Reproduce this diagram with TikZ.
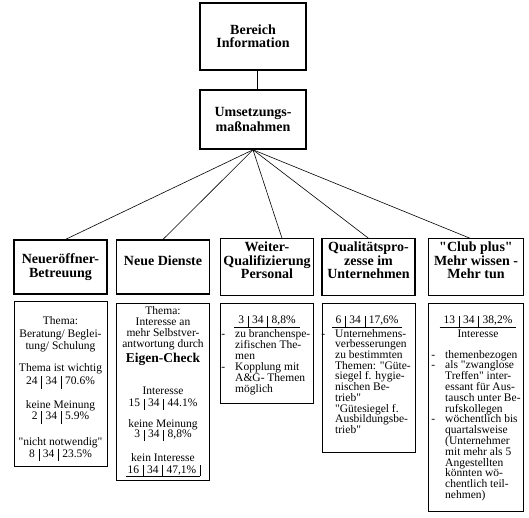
\documentclass[tikz,border=0pt]{standalone}
\usepackage{fontspec}
\setmainfont{Liberation Serif}[Ligatures=TeXOff]
\setlength{\tabcolsep}{4pt}
\newcommand{\zahl}[3]{\begin{tabular}{@{}c|c|c@{}}#1&#2&#3\end{tabular}}
\newcommand{\zahlu}[3]{{\renewcommand{\arraystretch}{0.85}%
  \begin{tabular}{@{\hspace{4pt}}c|c|c@{\hspace{4pt}}}#1&#2&#3\\\hline\end{tabular}}}
\newcommand{\strich}{\makebox[0pt][r]{-\hspace{10pt}}}

\begin{document}
\begin{tikzpicture}[x=1pt,y=-1pt,
  kopf/.style={draw,line width=1.6pt,minimum width=106pt,align=center,
    font=\fontsize{14}{13.3}\selectfont\bfseries},
  thema/.style={draw,line width=1.2pt,minimum width=93pt,minimum height=54pt,
    inner xsep=1pt,align=center,font=\fontsize{14}{13.3}\selectfont\bfseries},
  liste/.style={draw,line width=0.8pt,minimum width=93pt,inner sep=0pt},
  inhalt/.style={inner sep=0pt,anchor=north,align=center,font=\fontsize{11.5}{11}\selectfont},
  links/.style={inhalt,anchor=north west,align=left,font=\fontsize{11.5}{10.8}\selectfont}]
  \useasboundingbox (0,0) rectangle (529,517);

  \path
  (253,36.5)  node[kopf,minimum height=67pt](info)   {Bereich\\Information}
  (253,119.5) node[kopf,minimum height=59pt](umsetz) {Umsetzungs-\\[2pt]maßnahmen}

  (60.5,267)  node[thema](neu)     {Neueröffner-\\Betreuung}
  (163,267)   node[thema](dienste) {Neue Dienste\\\mbox{}}
  (267,267)   node[thema](weiter)  {Weiter-\\Qualifizierung\\Personal\\\mbox{}}
  (368.5,267) node[thema](quali)   {Qualitätspro-\\zesse im\\Unternehmen\\\mbox{}}
  (476,267)   node[thema,minimum width=95pt](club) {"Club plus"\\Mehr wissen -\\Mehr tun\\\mbox{}}

  (60.5,383.5) node[liste,minimum height=165pt](neuL)                  {}
  (163,391.5)  node[liste,minimum height=177pt](diensteL)              {}
  (267,353)    node[liste,minimum height=100pt](weiterL)               {}
  (369,377.5)  node[liste,minimum height=149pt](qualiL)                {}
  (476,407)    node[liste,minimum width=95pt,minimum height=208pt](clubL) {}
  ;

  % Inhalte der Kaesten
  \node[inhalt,font=\fontsize{11.5}{12.5}\selectfont] (neuT) at (60.5,316.5)
    {Thema:\\Beratung/ Beglei-\\tung/ Schulung\\[9.8pt]
     Thema ist wichtig\\[1pt]\zahl{24}{34}{70.6\%}\\[10.8pt]
     keine Meinung\\[-1pt]\zahl{2}{34}{5.9\%}\\[12.5pt]
     "nicht notwendig"\\\zahl{8}{34}{23.5\%}};
  \node[inhalt] (diensteT) at (163,306)
    {Thema:\\Interesse an\\mehr Selbstver-\\antwortung durch\\[2pt]
     {\fontsize{13.5}{14}\selectfont\bfseries Eigen-Check}\\[21.5pt]
     Interesse\\[2pt]\zahl{15}{34}{44.1\%}\\[9pt]
     keine Meinung\\\zahl{3}{34}{8,8\%}\\[11.5pt]
     kein Interesse\\[2pt]
     \begin{tabular}{@{\hspace{2pt}}c|c|c|@{}}16&34&47,1\%\\\hline\end{tabular}};

  \node[inhalt] (weiterZ) at (267,316) {\zahlu{3}{34}{8,8\%}};
  \node[links,font=\fontsize{11.5}{11}\selectfont] (weiterT) at (235,329)
    {\strich zu branchenspe-\\zifischen The-\\men\\
     \strich Kopplung mit\\A\&G- Themen\\möglich};

  \node[inhalt] (qualiZ) at (367,316) {\zahlu{6}{34}{17,6\%}};
  \node[links,font=\fontsize{11.5}{10.7}\selectfont] (qualiT) at (335,329)
    {\strich Unternehmens-\\verbesserungen\\zu bestimmten\\Themen: "Güte-\\
     siegel f. hygie-\\nischen Be-\\trieb"\\"Gütesiegel f.\\Ausbildungsbe-\\trieb"};

  \node[inhalt] (clubZ) at (478,316) {\zahlu{13}{34}{38,2\%}\\[1.5pt]Interesse};
  \node[links] (clubT) at (445,350)
    {\strich themenbezogen\\\strich als "zwanglose\\Treffen" inter-\\essant für Aus-\\
     tausch unter Be-\\rufskollegen\\\strich wöchentlich bis\\quartalsweise\\
     (Unternehmer\\mit mehr als 5\\Angestellten\\könnten wö-\\chentlich teil-\\nehmen)};

  % Verbindungen
  \draw[line width=0.6pt] ([xshift=4pt]info.south) -- ([xshift=4pt]umsetz.north);
  \draw[line width=0.6pt] (umsetz.south) -- ([xshift=5pt]neu.north);
  \draw[line width=0.6pt] (umsetz.south) -- (dienste.north);
  \draw[line width=0.6pt] (umsetz.south) -- ([xshift=15pt]weiter.north);
  \draw[line width=0.6pt] (umsetz.south) -- (quali.north);
  \draw[line width=0.6pt] (umsetz.south) -- ([xshift=-6pt]club.north);

\end{tikzpicture}
\end{document}
